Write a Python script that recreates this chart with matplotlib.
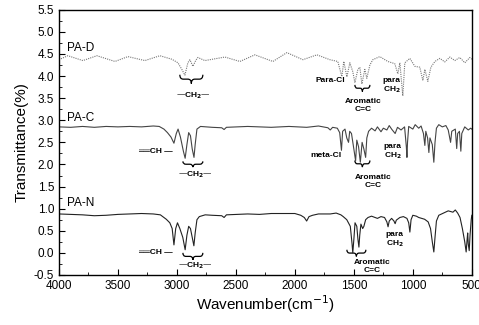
#FTIR spectra of the three PA samples, stacked with vertical offsets
import numpy as np
import matplotlib.pyplot as plt
from matplotlib.path import Path
from matplotlib.patches import PathPatch

plt.rcParams['font.family'] = ['Liberation Sans', 'DejaVu Sans']

#PA-D spectrum (dotted trace at the top)
wn_d = [4000, 3924, 3797, 3678, 3525, 3415, 3271, 3144, 3042, 2991, 2958, 2932,
        2907, 2890, 2864, 2839, 2822, 2763, 2593, 2466, 2339, 2186, 2068, 1932,
        1813, 1703, 1636, 1602, 1585, 1559, 1534, 1509, 1491, 1466, 1449, 1432,
        1407, 1390, 1364, 1339, 1280, 1212, 1153, 1127, 1110, 1085, 1068, 1025,
        983, 941, 915, 898, 873, 847, 813, 771, 729, 686, 644, 602, 559, 517, 500]
tr_d = [4.37, 4.46, 4.35, 4.46, 4.33, 4.44, 4.35, 4.46, 4.38, 4.30, 4.15, 4.02,
        4.30, 4.37, 4.22, 4.36, 4.42, 4.35, 4.43, 4.33, 4.48, 4.33, 4.53, 4.37,
        4.48, 4.37, 4.33, 3.99, 4.33, 3.98, 4.30, 4.10, 3.85, 4.15, 4.20, 3.82,
        4.15, 3.95, 4.25, 4.37, 4.44, 4.33, 4.28, 4.05, 4.30, 3.55, 4.30, 4.40,
        4.22, 4.20, 3.90, 4.15, 3.88, 4.20, 4.33, 4.40, 4.32, 4.43, 4.35, 4.42,
        4.30, 4.42, 4.38]

#PA-C spectrum
wn_c = [4000, 3900, 3800, 3700, 3600, 3500, 3400, 3300, 3200, 3150, 3110, 3080,
        3050, 3025, 3005, 2990, 2970, 2945, 2930, 2915, 2900, 2885, 2870, 2855,
        2845, 2830, 2800, 2700, 2620, 2600, 2580, 2400, 2200, 2050, 1900, 1800,
        1720, 1700, 1680, 1640, 1620, 1605, 1595, 1575, 1560, 1545, 1535, 1520,
        1500, 1485, 1475, 1460, 1445, 1430, 1415, 1400, 1390, 1375, 1350, 1320,
        1300, 1270, 1250, 1220, 1200, 1180, 1150, 1130, 1100, 1070, 1055, 1050,
        1045, 1035, 1000, 980, 950, 930, 910, 898, 890, 875, 864, 855, 835, 822,
        812, 800, 780, 750, 720, 700, 680, 670, 640, 628, 620, 605, 593, 585,
        560, 530, 510, 500]
tr_c = [2.85, 2.84, 2.86, 2.84, 2.86, 2.85, 2.86, 2.85, 2.87, 2.86, 2.80, 2.72,
        2.62, 2.48, 2.70, 2.80, 2.62, 2.30, 2.14, 2.45, 2.72, 2.65, 2.35, 2.16,
        2.45, 2.80, 2.86, 2.84, 2.83, 2.79, 2.84, 2.86, 2.84, 2.86, 2.84, 2.87,
        2.83, 2.78, 2.84, 2.82, 2.72, 2.32, 2.75, 2.80, 2.60, 2.50, 2.75, 2.70,
        2.35, 2.08, 2.55, 2.40, 2.05, 2.50, 2.35, 2.16, 2.60, 2.75, 2.82, 2.76,
        2.85, 2.74, 2.82, 2.78, 2.88, 2.80, 2.70, 2.84, 2.78, 2.85, 2.40, 2.16,
        2.50, 2.86, 2.80, 2.90, 2.82, 2.87, 2.70, 2.43, 2.75, 2.60, 2.27, 2.60,
        2.45, 2.05, 2.50, 2.82, 2.90, 2.85, 2.88, 2.78, 2.50, 2.75, 2.80, 2.36,
        2.70, 2.75, 2.30, 2.70, 2.85, 2.78, 2.82, 2.80]

#PA-N spectrum
wn_n = [4000, 3900, 3800, 3700, 3600, 3500, 3400, 3300, 3200, 3140, 3110, 3090,
        3060, 3040, 3025, 3010, 2995, 2975, 2950, 2930, 2915, 2900, 2885, 2870,
        2856, 2845, 2830, 2810, 2760, 2700, 2620, 2600, 2580, 2400, 2300, 2200,
        2100, 2000, 1950, 1920, 1900, 1880, 1850, 1800, 1700, 1650, 1610, 1590,
        1560, 1530, 1515, 1509, 1500, 1490, 1475, 1465, 1457, 1450, 1440, 1425,
        1415, 1400, 1380, 1350, 1300, 1270, 1240, 1220, 1210, 1200, 1180, 1160,
        1150, 1140, 1110, 1080, 1050, 1035, 1025, 1015, 1000, 970, 950, 900, 870,
        850, 835, 822, 812, 800, 780, 740, 700, 660, 640, 620, 600, 580, 560,
        548, 540, 535, 530, 522, 515, 505, 500]
tr_n = [0.88, 0.87, 0.86, 0.84, 0.85, 0.87, 0.88, 0.89, 0.88, 0.86, 0.80, 0.76,
        0.68, 0.55, 0.18, 0.55, 0.68, 0.55, 0.35, 0.07, 0.40, 0.60, 0.55, 0.35,
        0.16, 0.45, 0.75, 0.82, 0.86, 0.85, 0.84, 0.80, 0.86, 0.88, 0.87, 0.89,
        0.89, 0.89, 0.85, 0.80, 0.72, 0.82, 0.85, 0.88, 0.88, 0.90, 0.86, 0.82,
        0.75, 0.60, 0.20, 0.00, 0.30, 0.68, 0.60, 0.30, 0.13, 0.40, 0.65, 0.55,
        0.60, 0.75, 0.80, 0.83, 0.78, 0.82, 0.80, 0.70, 0.59, 0.72, 0.78, 0.72,
        0.66, 0.74, 0.80, 0.82, 0.78, 0.68, 0.47, 0.75, 0.85, 0.83, 0.80, 0.76,
        0.70, 0.55, 0.25, 0.02, 0.35, 0.72, 0.85, 0.90, 0.95, 0.92, 0.97, 0.90,
        0.80, 0.55, 0.25, 0.02, 0.30, 0.45, 0.20, 0.05, 0.40, 0.75, 0.85]

x_ticks = [4000, 3500, 3000, 2500, 2000, 1500, 1000, 500]
y_ticks = [-0.5, 0.0, 0.5, 1.0, 1.5, 2.0, 2.5, 3.0, 3.5, 4.0, 4.5, 5.0, 5.5]


def brace(ax, x0, x1, y, h, lw=0.9):
    # curly brace opening upward, tip pointing down
    xm = (x0 + x1) / 2
    dx = x1 - x0
    ym = y - h / 2
    verts = [(x0, y), (x0, ym), (x0 + 0.15 * dx, ym), (xm - 0.15 * dx, ym),
             (xm, ym), (xm, y - h), (xm, ym), (xm + 0.15 * dx, ym),
             (x1 - 0.15 * dx, ym), (x1, ym), (x1, y)]
    codes = [Path.MOVETO, Path.CURVE3, Path.CURVE3, Path.LINETO,
             Path.CURVE3, Path.CURVE3, Path.CURVE3, Path.CURVE3,
             Path.LINETO, Path.CURVE3, Path.CURVE3]
    ax.add_patch(PathPatch(Path(verts, codes), fill=False, lw=lw, color='black'))


fig = plt.figure(figsize=(4.79, 3.25), dpi=100)
ax = fig.add_axes([0.123, 0.154, 0.862, 0.816])

ax.plot(wn_d, tr_d, color='#777777', lw=0.8, linestyle=(0, (1, 1)))
ax.plot(wn_c, tr_c, color='#444444', lw=0.8)
ax.plot(wn_n, tr_n, color='#222222', lw=0.8)

ax.set_xlim(4000, 500)
ax.set_ylim(-0.5, 5.5)
ax.set_xticks(x_ticks)
ax.set_yticks(y_ticks)
ax.set_yticklabels([f'{v:.1f}' for v in y_ticks])
ax.set_xticks(np.arange(500, 4001, 250), minor=True)
ax.set_yticks(np.arange(-0.5, 5.51, 0.25), minor=True)
ax.tick_params(which='both', direction='in', labelsize=8.5, top=False, right=False)
ax.tick_params(which='major', length=4)
ax.tick_params(which='minor', length=2)
for s in ax.spines.values():
    s.set_linewidth(1.0)

ax.set_xlabel('Wavenumber(cm$^{-1}$)', fontsize=11, labelpad=1)
ax.set_ylabel('Transmittance(%)', fontsize=11)

# sample names
ax.text(3932, 4.64, 'PA-D', fontsize=8.5, va='center', ha='left')
ax.text(3932, 3.06, 'PA-C', fontsize=8.5, va='center', ha='left')
ax.text(3932, 1.13, 'PA-N', fontsize=8.5, va='center', ha='left')

# band assignments
bold = dict(fontsize=6, fontweight='bold', ha='center', va='center')
ch2 = '—CH$_\\mathbf{2}$—'
brace(ax, 2975, 2780, 4.03, 0.2)
ax.text(2864, 3.56, ch2, **bold)
ax.text(1703, 3.90, 'Para-Cl', **bold)
brace(ax, 1491, 1364, 3.80, 0.15)
ax.text(1424, 3.34, 'Aromatic\nC=C', linespacing=1.2, **bold)
ax.text(1178, 3.78, 'para\nCH$_\\mathbf{2}$', linespacing=1.0, **bold)

ax.text(3186, 2.30, '══CH —', **bold)
brace(ax, 2949, 2780, 2.07, 0.13)
ax.text(2847, 1.76, ch2, **bold)
ax.text(1737, 2.20, 'meta-Cl', **bold)
brace(ax, 1491, 1364, 2.09, 0.15)
ax.text(1339, 1.62, 'Aromatic\nC=C', linespacing=1.2, **bold)
ax.text(1169, 2.28, 'para\nCH$_\\mathbf{2}$', linespacing=1.0, **bold)

ax.text(3186, 0.00, '══CH —', **bold)
brace(ax, 2949, 2780, 0.00, 0.16)
ax.text(2847, -0.29, ch2, **bold)
brace(ax, 1559, 1398, 0.07, 0.15)
ax.text(1347, -0.31, 'Aromatic\nC=C', linespacing=1.2, **bold)
ax.text(1152, 0.29, 'para\nCH$_\\mathbf{2}$', linespacing=1.0, **bold)

fig.savefig('out.png', dpi=100)
